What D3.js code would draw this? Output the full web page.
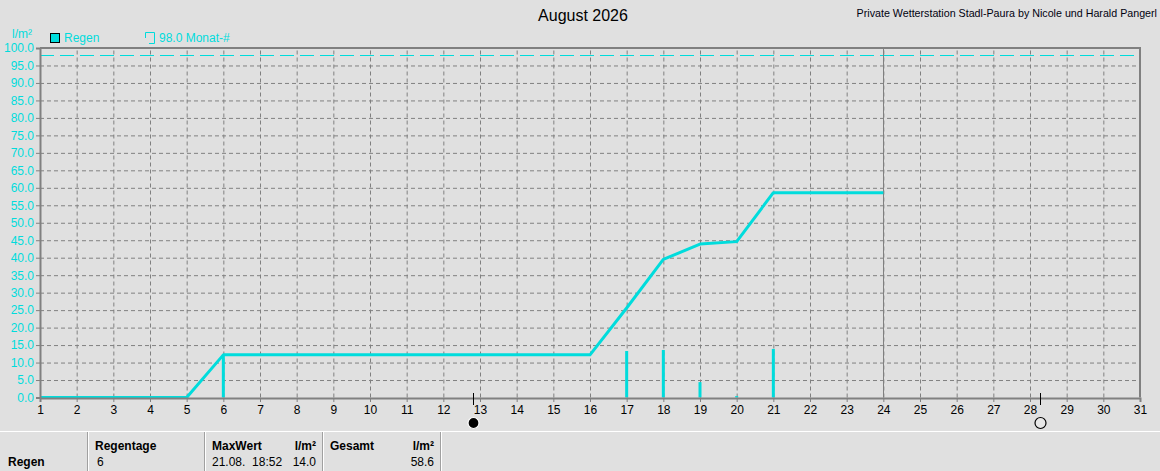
<!DOCTYPE html>
<html>
<head>
<meta charset="utf-8">
<script src="https://cdn.jsdelivr.net/npm/d3@7"></script>
<style>
  body { margin: 0; background: #e0e0e0; }
  svg { display: block; font-family: "Liberation Sans", Arial, sans-serif; }
  text { white-space: pre; }
</style>
</head>
<body>
<div id="chart"></div>
<script>
// data
var days = d3.range(1, 32);
var yTicks = d3.range(0, 100.1, 5);
var rainDays = [6, 17, 18, 19, 20, 21];
var rainDaily = [12.2, 13.3, 13.6, 4.4, 0.4, 13.9];
var sumDays = [1, 5, 6, 16, 17, 18, 19, 20, 21, 24];
var sumValues = [0, 0, 12.2, 12.2, 25.6, 39.5, 43.9, 44.6, 58.6, 58.6];
var monthAvg = 98.0;
var todayDay = 24;
var moonDays = [12.81, 28.27];
var moonTypes = ["new", "full"];
var tableHead = ["Regentage", "MaxWert", "Gesamt"];
var tableValues = ["6", "21.08.  18:52", "14.0", "58.6"];

var W = 1160, H = 471;
var cyan = "#00dcdc";
var grid = "#808080";

var svg = d3.select("#chart").append("svg")
    .attr("width", W).attr("height", H);

svg.append("rect").attr("width", W).attr("height", H).attr("fill", "#e0e0e0");

var x = d3.scaleLinear().domain([1, 31]).range([40, 1140]);
var y = d3.scaleLinear().domain([0, 100]).range([397.5, 48]);

/* grid */
svg.append("g")
    .attr("transform", "translate(0,397.5)")
    .call(d3.axisBottom(x).tickValues(days.slice(1, -1)).tickSize(-(397.5 - 48)).tickFormat(""))
    .call(g => g.select(".domain").remove())
    .selectAll("line")
        .attr("stroke", grid)
        .attr("stroke-dasharray", "4,3");

svg.append("g")
    .attr("transform", "translate(40,0)")
    .call(d3.axisLeft(y).tickValues(yTicks.slice(1, -1)).tickSize(-(1140 - 40)).tickFormat(""))
    .call(g => g.select(".domain").remove())
    .selectAll("line")
        .attr("stroke", grid)
        .attr("stroke-dasharray", "4,3");

// month average
svg.append("line")
    .attr("x1", x(1)).attr("x2", x(31) - 6)
    .attr("y1", Math.round(y(monthAvg)) + 0.5).attr("y2", Math.round(y(monthAvg)) + 0.5)
    .attr("stroke", cyan).attr("stroke-width", 1)
    .attr("stroke-dasharray", "14,6");

// today line
svg.append("line")
    .attr("x1", Math.round(x(todayDay)) + 0.5).attr("x2", Math.round(x(todayDay)) + 0.5)
    .attr("y1", y(100)).attr("y2", y(0))
    .attr("stroke", grid).attr("stroke-width", 1);

/* daily rain bars */
svg.append("g").selectAll("rect")
    .data(rainDays).enter()
    .append("rect")
        .attr("x", d => x(d) - 1.5)
        .attr("width", 3)
        .attr("y", (d, i) => y(rainDaily[i]))
        .attr("height", (d, i) => y(0) - y(rainDaily[i]))
        .attr("fill", cyan);

/* cumulative line */
var line = d3.line()
    .x(d => x(d))
    .y((d, i) => y(sumValues[i]));

svg.append("path")
    .attr("d", line(sumDays))
    .attr("fill", "none")
    .attr("stroke", cyan)
    .attr("stroke-width", 3)
    .attr("stroke-linejoin", "round");

/* frame */
svg.append("path")
    .attr("d", `M${x(1)},${y(100)}H${x(31)}V${y(0)}`)
    .attr("fill", "none").attr("stroke", grid).attr("stroke-width", 2);

/* axes */
var yAxis = svg.append("g")
    .attr("transform", "translate(40,0)")
    .call(d3.axisLeft(y).tickValues(yTicks).tickSize(4).tickPadding(2).tickFormat(d3.format(".1f")));
yAxis.select(".domain").attr("stroke", grid).attr("stroke-width", 2);
yAxis.selectAll("line").attr("stroke", grid);
yAxis.selectAll("text").attr("fill", cyan).style("font-size", "12px");

var xAxis = svg.append("g")
    .attr("transform", "translate(0,398)")
    .call(d3.axisBottom(x).tickValues(days).tickSize(4).tickPadding(3).tickFormat(d3.format("d")));
xAxis.select(".domain").attr("stroke", grid).attr("stroke-width", 2);
xAxis.selectAll("line").attr("stroke", grid);
xAxis.selectAll("text").attr("fill", "#000").style("font-size", "12px");

/* moon phases */
var moons = svg.append("g").selectAll("g")
    .data(moonDays).enter()
    .append("g")
    .attr("transform", d => `translate(${Math.round(x(d)) + 0.5},0)`);
moons.append("line")
    .attr("y1", 393).attr("y2", 405)
    .attr("stroke", "#000").attr("stroke-width", 1);
moons.append("circle")
    .attr("cy", 423).attr("r", 5.5)
    .attr("fill", (d, i) => moonTypes[i] == "new" ? "#000" : "#e8e8e8")
    .attr("stroke", (d, i) => moonTypes[i] == "new" ? "#fff" : "#000")
    .attr("stroke-width", 1.2);

/* titles */
svg.append("text")
    .attr("x", 583).attr("y", 21)
    .attr("text-anchor", "middle")
    .style("font-size", "16px")
    .attr("fill", "#000")
    .text("August 2026");

svg.append("text")
    .attr("x", 1157).attr("y", 17)
    .attr("text-anchor", "end")
    .style("font-size", "10.7px")
    .attr("fill", "#000010")
    .text("Private Wetterstation Stadl-Paura by Nicole und Harald Pangerl");

svg.append("text")
    .attr("x", 12).attr("y", 38)
    .style("font-size", "12px")
    .attr("fill", cyan)
    .text("l/m²");

/* legend */
svg.append("rect")
    .attr("x", 50.5).attr("y", 33.5).attr("width", 9).attr("height", 9)
    .attr("fill", cyan).attr("stroke", "#000");
svg.append("text")
    .attr("x", 64).attr("y", 42)
    .style("font-size", "12px").attr("fill", cyan)
    .text("Regen");
svg.append("path")
    .attr("d", "M145.5,38V32.5H154.5V43.5H149")
    .attr("fill", "none").attr("stroke", cyan);
svg.append("text")
    .attr("x", 159).attr("y", 42)
    .style("font-size", "12px").attr("fill", cyan)
    .text(monthAvg.toFixed(1) + " Monat-#");

/* bottom table */
var table = svg.append("g");
table.append("line")
    .attr("x1", 0).attr("x2", W).attr("y1", 431.5).attr("y2", 431.5)
    .attr("stroke", "#fff");
[88, 205, 323, 441].forEach(sx => {
    table.append("line")
        .attr("x1", sx - 0.5).attr("x2", sx - 0.5).attr("y1", 432).attr("y2", H)
        .attr("stroke", "#a0a0a0");
    table.append("line")
        .attr("x1", sx + 0.5).attr("x2", sx + 0.5).attr("y1", 432).attr("y2", H)
        .attr("stroke", "#fff");
});

var cell = (tx, ty, t, bold, anchor) => table.append("text")
    .attr("x", tx).attr("y", ty)
    .attr("text-anchor", anchor || "start")
    .style("font-size", "12px")
    .style("font-weight", bold ? "bold" : "normal")
    .attr("fill", "#000")
    .text(t);

cell(8, 466, "Regen", true);
cell(95, 450, tableHead[0], true);
cell(97, 466, tableValues[0]);
cell(212, 450, tableHead[1], true);
cell(316, 450, "l/m²", true, "end");
cell(212, 466, tableValues[1]);
cell(316, 466, tableValues[2], false, "end");
cell(330, 450, tableHead[2], true);
cell(434, 450, "l/m²", true, "end");
cell(434, 466, tableValues[3], false, "end");
</script>
</body>
</html>
